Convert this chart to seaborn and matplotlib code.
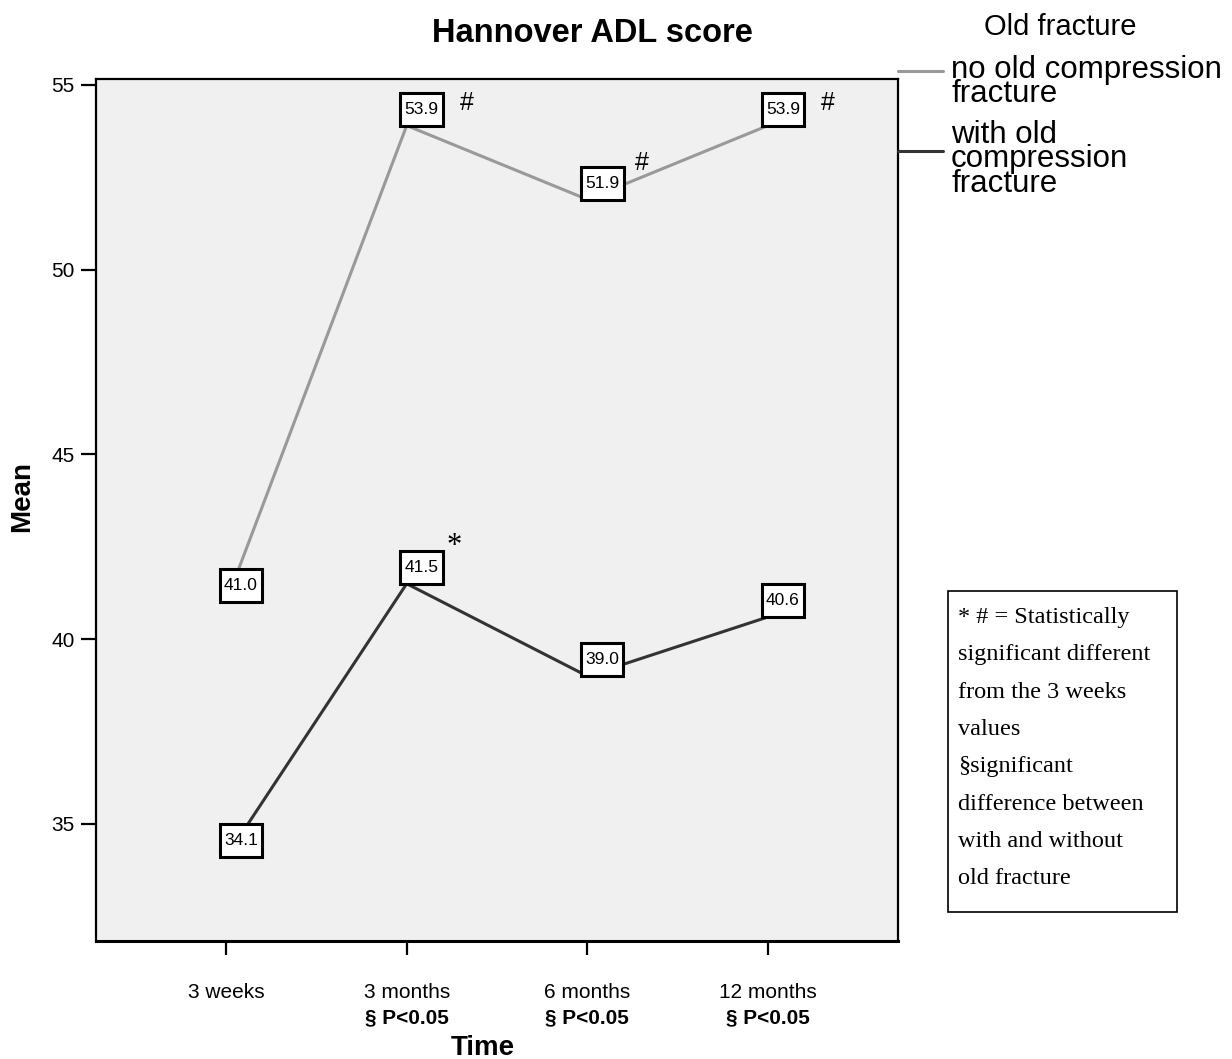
import matplotlib
matplotlib.use("Agg")
import matplotlib.pyplot as plt
from matplotlib.patches import Rectangle
from matplotlib.lines import Line2D
import pandas as pd
import seaborn as sns

# chart values
time_points = ["3 weeks", "3 months", "6 months", "12 months"]
p_labels = ["", "\u00a7 P<0.05", "\u00a7 P<0.05", "\u00a7 P<0.05"]
groups = ["no old compression\nfracture", "with old\ncompression\nfracture"]
no_old_fracture = [41.0, 53.9, 51.9, 53.9]
with_old_fracture = [34.1, 41.5, 39.0, 40.6]
# significance marks: (group index, time index, symbol)
sig_marks = [(0, 1, "#"), (0, 2, "#"), (0, 3, "#"), (1, 1, "*")]
y_ticks = [35, 40, 45, 50, 55]
note_lines = ["* # = Statistically", "significant different", "from the 3 weeks",
              "values", "\u00a7significant", "difference between",
              "with and without", "old fracture"]

rows = []
for g, vals in zip(groups, [no_old_fracture, with_old_fracture]):
    for i, (t, v) in enumerate(zip(time_points, vals)):
        rows.append({"Time": t, "pos": i, "Mean": v, "Old fracture": g})
df = pd.DataFrame(rows)

sns.set_style("white")
plt.rcParams["font.family"] = ["Liberation Sans", "DejaVu Sans"]
plt.rcParams["text.color"] = "black"
plt.rcParams["axes.labelcolor"] = "black"
plt.rcParams["xtick.color"] = "black"
plt.rcParams["ytick.color"] = "black"

W, H = 1232, 1059
fig = plt.figure(figsize=(W / 100, H / 100), dpi=100)
ax = fig.add_axes([96 / W, 1 - 941 / H, 802 / W, 862 / H])
ax.set_facecolor("#f0f0f0")

palette = {groups[0]: "#999999", groups[1]: "#333333"}
sns.lineplot(data=df, x="pos", y="Mean", hue="Old fracture", hue_order=groups,
             palette=palette, linewidth=2.2, ax=ax, legend=False)

ax.set_xlim(-0.72, 3.72)
ax.set_ylim(31.83, 55.16)
ax.set_xticks(range(len(time_points)))
ax.set_xticklabels(time_points, fontsize=15)
ax.set_yticks(y_ticks)
ax.set_yticklabels([str(v) for v in y_ticks], fontsize=15)
ax.tick_params(axis="x", direction="out", length=10, width=1.6, pad=20, bottom=True)
ax.tick_params(axis="y", direction="out", length=10.5, width=1.6, pad=5, left=True)
for sp in ax.spines.values():
    sp.set_color("black")
    sp.set_linewidth(1.6)
ax.spines["bottom"].set_linewidth(2.2)

# bold p-value lines under the tick labels
for i, s in enumerate(p_labels):
    if s:
        ax.annotate(s, xy=(i, 0), xycoords=ax.get_xaxis_transform(),
                    xytext=(0, -55), textcoords="offset points",
                    ha="center", va="center", fontsize=15, fontweight="bold")

ax.set_xlabel("")
ax.set_ylabel("")
fig.text(483 / W, 1 - 1048 / H, "Time", ha="center", va="center",
         fontsize=20, fontweight="bold")
fig.text(22 / W, 1 - 497 / H, "Mean", ha="center", va="center",
         rotation=90, fontsize=20, fontweight="bold")

# value boxes
for vals in [no_old_fracture, with_old_fracture]:
    for i, v in enumerate(vals):
        ax.annotate(f"{v:.1f}", xy=(i, v), xytext=(-1.5, 6.3), textcoords="offset points",
                    ha="left", va="bottom", fontsize=12.5, zorder=5,
                    bbox=dict(boxstyle="square,pad=0.24", mutation_aspect=2.15,
                              fc="white", ec="black", lw=2.2))

# significance symbols
offsets = {"#": [(43, 16), (39, 26), (43, 16)], "*": [(34, 27)]}
counters = {"#": 0, "*": 0}
series = [no_old_fracture, with_old_fracture]
for g, i, sym in sig_marks:
    off = offsets[sym][counters[sym]]
    counters[sym] += 1
    if sym == "#":
        ax.annotate(sym, xy=(i, series[g][i]), xytext=off, textcoords="offset points",
                    ha="center", va="center", fontsize=18)
    else:
        ax.annotate(sym, xy=(i, series[g][i]), xytext=off, textcoords="offset points",
                    ha="center", va="center", fontsize=22, family="Liberation Serif")

# title
fig.text(0.481, 1 - 33 / H, "Hannover ADL score", ha="center", va="center",
         fontsize=23.5, fontweight="bold")

# legend for the two groups (drawn outside the axes, SPSS style)
fig.text(1060 / W, 1 - 27 / H, "Old fracture", ha="center", va="center", fontsize=21)
legend_rows = [(71, 55), (151, 120)]  # (handle y, text top y) in pixels
for grp, (ly, ty) in zip(groups, legend_rows):
    fig.add_artist(Line2D([898 / W, 943 / W], [1 - ly / H, 1 - ly / H],
                          transform=fig.transFigure, color=palette[grp], lw=2.2))
    fig.text(951 / W, 1 - ty / H, grp, ha="left", va="top", fontsize=22.5,
             linespacing=0.76)

# note box
fig.add_artist(Rectangle((948 / W, 1 - 912 / H), 229 / W, 321 / H,
                         transform=fig.transFigure, fill=False, ec="black", lw=1.2))
fig.text(958 / W, 1 - 607 / H, "\n".join(note_lines), ha="left", va="top",
         fontsize=17.5, family="Liberation Serif", linespacing=2.02)

fig.savefig("out.png", dpi=100)
